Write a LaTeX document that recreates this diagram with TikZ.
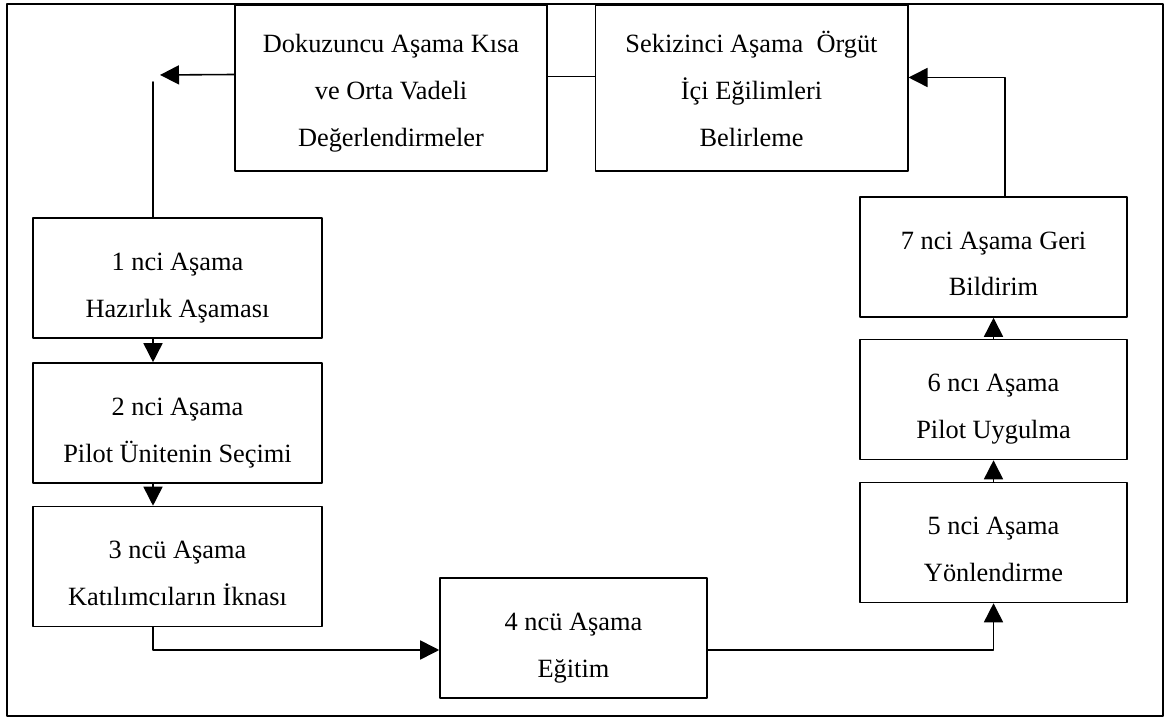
\documentclass[tikz,border=0pt]{standalone}
\usepackage{fontspec}
\setmainfont{Liberation Serif}
\usetikzlibrary{arrows.meta,calc,positioning}
\tikzset{
  >={Triangle[length=3.8mm,width=3.8mm]},
  stagebox/.style={
    draw=black,
    line width=0.9pt,
    fill=white,
    align=center,
    inner sep=4pt,
    font=\fontsize{15}{26.7}\selectfont,
  },
  topbox/.style={stagebox, minimum width=6.25cm, minimum height=3.32cm,
    text height=71.9pt, text depth=5pt},
  leftbox/.style={stagebox, minimum width=5.78cm, minimum height=2.4cm,
    text height=49.4pt, text depth=5pt},
  rightbox/.style={stagebox, minimum width=5.34cm, minimum height=2.4cm,
    text height=49.4pt, text depth=5pt},
  flow/.style={line width=0.9pt},
}

\begin{document}
\begin{tikzpicture}[x=0.02cm, y=0.02cm, line cap=round, line join=round]
  \useasboundingbox (0,0) rectangle (1168,723);
  \draw[line width=0.9pt] (7,7) rectangle (1163,719);

  % top row
  \node[topbox] (nine) at (391, 635) {Dokuzuncu Aşama Kısa\\ve Orta Vadeli\\Değerlendirmeler};
  \node[topbox] (eight) at (751.5, 635) {Sekizinci Aşama\ \ Örgüt\\İçi Eğilimleri\\Belirleme};

  % left column
  \node[leftbox] (one) at (177.5, 445) {1 nci Aşama\\Hazırlık Aşaması};
  \node[leftbox] (two) at (177.5, 300) {2 nci Aşama\\Pilot Ünitenin Seçimi};
  \node[leftbox] (three) at (177.5, 156.5) {3 ncü Aşama\\Katılımcıların İknası};

  % bottom
  \node[rightbox] (four) at (573.5, 85) {4 ncü Aşama\\Eğitim};

  % right column
  \node[rightbox] (five) at (993.5, 180.5) {5 nci Aşama\\Yönlendirme};
  \node[rightbox] (six) at (993.5, 323.5) {6 ncı Aşama\\Pilot Uygulma};
  \node[rightbox] (seven) at (993.5, 466) {7 nci Aşama Geri\\Bildirim};

  \coordinate (back) at (153, 641);
  \coordinate (backtip) at (160, 648);

  \draw[flow, ->] ([yshift=0.27cm]nine.west) -- (backtip);
  \draw[flow] (one.north -| back) -- (back);
  \draw[flow, ->] (one.south -| back) -- (two.north -| back);
  \draw[flow, ->] (two.south -| back) -- (three.north -| back);
  \draw[flow, ->] (three.south -| back) |- ([yshift=-0.24cm]four.west);
  \draw[flow, ->] ([yshift=-0.24cm]four.east) -| (five.south);
  \draw[flow, ->] (five) -- (six);
  \draw[flow, ->] (six) -- (seven);
  \draw[flow, ->] ([xshift=0.23cm]seven.north) |- ([yshift=0.21cm]eight.east);
  \draw[flow] ([yshift=0.23cm]eight.west) -- ([yshift=0.23cm]nine.east);
\end{tikzpicture}
\end{document}
